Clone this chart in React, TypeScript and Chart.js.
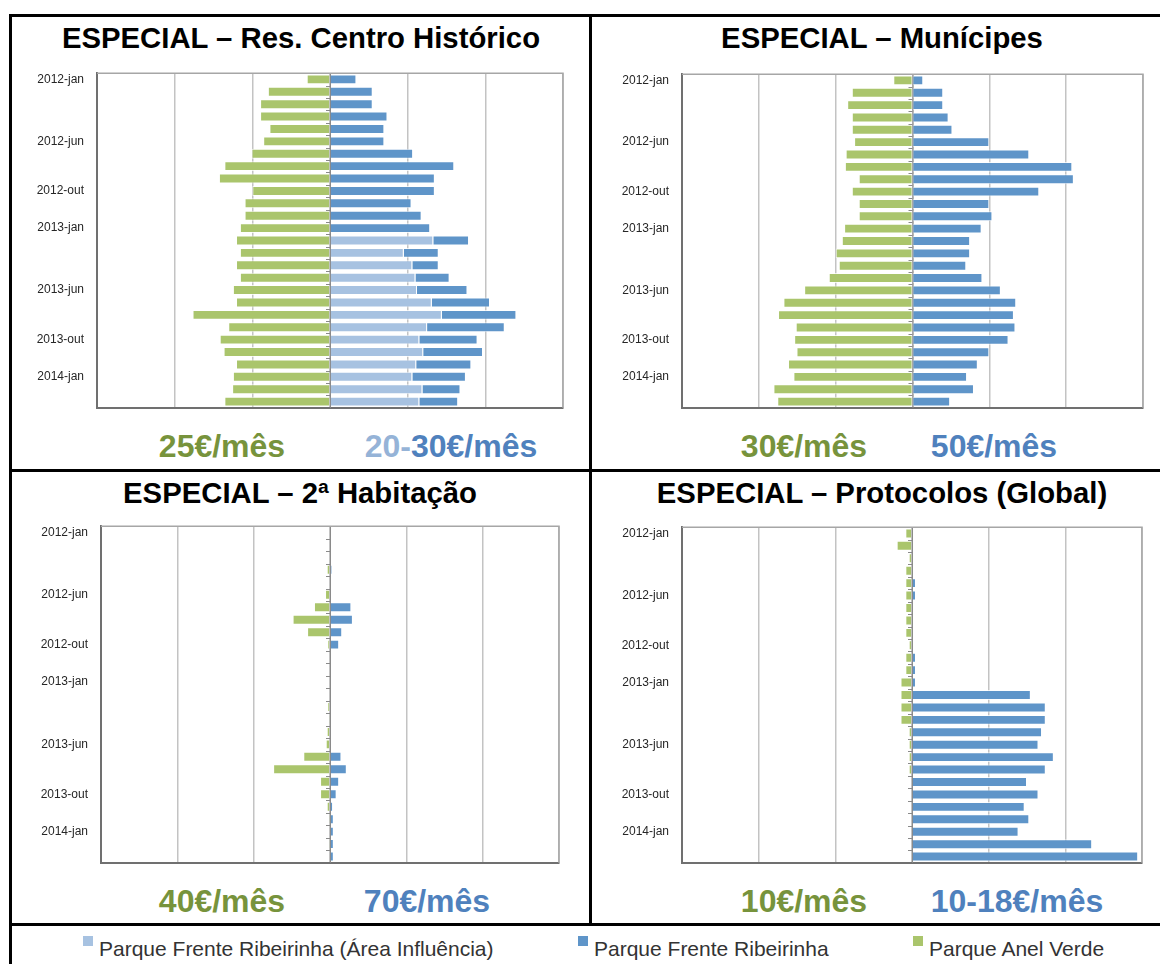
import React, { useEffect, useRef } from "react";
import { Chart, registerables } from "chart.js";

Chart.register(...registerables);

const FONT = '"Liberation Sans", Arial, Helvetica, sans-serif';

// Categories (months, 2012-jan .. 2014-mar)
const months = [
  "2012-jan", "2012-fev", "2012-mar", "2012-abr", "2012-mai", "2012-jun",
  "2012-jul", "2012-ago", "2012-set", "2012-out", "2012-nov", "2012-dez",
  "2013-jan", "2013-fev", "2013-mar", "2013-abr", "2013-mai", "2013-jun",
  "2013-jul", "2013-ago", "2013-set", "2013-out", "2013-nov", "2013-dez",
  "2014-jan", "2014-fev", "2014-mar",
];
const shownTicks = ["2012-jan", "2012-jun", "2012-out", "2013-jan", "2013-jun", "2013-out", "2014-jan"];

const seriesNames = [
  "Parque Frente Ribeirinha (Área Influência)",
  "Parque Frente Ribeirinha",
  "Parque Anel Verde",
];

// Panel 1 – Res. Centro Histórico
const centroInfluencia = [0, 0, 0, 0, 0, 0, 0, 0, 0, 0, 0, 0, 0, 133, 95, 106, 110, 112, 131, 144, 125, 115, 120, 111, 106, 119, 115];
const centroRibeirinha = [34, 55, 55, 74, 70, 70, 107, 160, 135, 135, 105, 118, 129, 46, 45, 34, 44, 65, 75, 96, 100, 75, 77, 71, 69, 49, 50];
const centroAnelVerde = [30, 80, 90, 90, 78, 86, 101, 136, 143, 100, 110, 110, 116, 121, 116, 121, 116, 125, 121, 177, 131, 142, 137, 121, 125, 126, 136];

// Panel 2 – Munícipes
const municipesRibeirinha = [14, 40, 40, 47, 52, 100, 152, 208, 210, 165, 100, 104, 90, 75, 75, 70, 91, 115, 135, 132, 134, 125, 100, 85, 71, 80, 49];
const municipesAnelVerde = [25, 79, 85, 79, 79, 76, 87, 88, 70, 79, 70, 70, 89, 92, 100, 96, 109, 141, 168, 175, 152, 154, 151, 162, 155, 181, 176];

// Panel 3 – 2ª Habitação
const habitacaoRibeirinha = [0, 0, 0, 2.6, 0, 1, 28, 30, 16, 12, 0, 0, 0, 0, 0, 1, 1, 0, 15, 22, 12, 8.7, 4, 5, 5, 5, 5];
const habitacaoAnelVerde = [0, 0, 0, 4.3, 0, 6.5, 21, 49, 30, 3.5, 0, 0, 0, 0, 3.5, 1.7, 4.3, 5.6, 35, 74.5, 13, 13, 4.3, 1.7, 0, 1.7, 0];

// Panel 4 – Protocolos (Global)
const protocolosRibeirinha = [0, 0, 0, 0, 5.2, 5.2, 0, 0, 0, 0, 5.2, 5.2, 5.2, 155, 174.5, 174.5, 169.6, 165, 185, 174.5, 150, 165, 147, 153, 139, 235, 295];
const protocolosAnelVerde = [8.7, 20, 4.3, 8.7, 8.7, 8.7, 8.7, 8.7, 8.7, 4.3, 8.7, 8.7, 15, 15, 15, 15, 4.3, 4.3, 4.3, 4.3, 0, 0, 0, 0, 0, 0, 0];

const axisMin = -300;
const axisMax = 300;
const axisStep = 100;

const LIGHT_BAR = "#A7C2E1";
const BLUE_BAR = "#5F95C9";
const GREEN_BAR = "#AAC56C";
const LIGHT_TEXT = "#95B3D7";
const BLUE_TEXT = "#4F81BD";
const GREEN_TEXT = "#77933C";

type Geom = { L: number; R: number; T: number; B: number };

const framePlugin = {
  id: "frame",
  beforeDatasetsDraw(chart: any) {
    const { ctx, chartArea: a, scales } = chart;
    const x0 = scales.x.getPixelForValue(0);
    const n = chart.data.labels.length;
    const step = (a.bottom - a.top) / n;
    ctx.save();
    ctx.strokeStyle = "#8a8a8a";
    ctx.lineWidth = 1;
    ctx.beginPath();
    ctx.moveTo(x0 + 0.5, a.top);
    ctx.lineTo(x0 + 0.5, a.bottom);
    for (let i = 1; i < n; i++) {
      const y = Math.round(a.top + i * step) + 0.5;
      ctx.moveTo(x0 - 4, y);
      ctx.lineTo(x0, y);
    }
    ctx.stroke();
    ctx.restore();
  },
  afterDraw(chart: any) {
    const { ctx, chartArea: a } = chart;
    ctx.save();
    ctx.strokeStyle = "#a6a6a6";
    ctx.lineWidth = 1.5;
    ctx.beginPath();
    ctx.moveTo(a.left, a.top);
    ctx.lineTo(a.right, a.top);
    ctx.lineTo(a.right, a.bottom);
    ctx.stroke();
    ctx.restore();
  },
};

function PyramidChart({ geom, build }: { geom: Geom; build: () => any[] }) {
  const ref = useRef<HTMLCanvasElement>(null);
  const AX = 80;
  const PAD = 10;
  const left = geom.L - AX;
  const top = geom.T - 2 * PAD;
  const width = geom.R - geom.L + AX + PAD;
  const height = geom.B - geom.T + 4 * PAD;

  useEffect(() => {
    const chart = new Chart(ref.current as HTMLCanvasElement, {
      type: "bar",
      data: { labels: months, datasets: build() },
      options: {
        responsive: false,
        animation: false,
        devicePixelRatio: 1,
        indexAxis: "y",
        layout: { padding: { top: PAD, bottom: PAD, left: 0, right: PAD } },
        plugins: { legend: { display: false }, tooltip: { enabled: false } },
        datasets: { bar: { categoryPercentage: 1, barPercentage: 0.8 } } as any,
        scales: {
          x: {
            type: "linear",
            stacked: true,
            min: axisMin,
            max: axisMax,
            ticks: { display: false, stepSize: axisStep },
            grid: { color: "#c3c3c3", lineWidth: 1.5, drawTicks: false },
            border: { display: true, color: "#707070", width: 2 },
            afterFit: (s: any) => {
              s.height = 0;
            },
          },
          y: {
            type: "category",
            stacked: true,
            grid: { display: false, drawTicks: false },
            border: { display: true, color: "#707070", width: 2 },
            ticks: {
              autoSkip: false,
              padding: 13,
              color: "#262626",
              font: { family: FONT, size: 12 },
              callback: (_v: any, i: number) => (shownTicks.includes(months[i]) ? months[i] : ""),
            },
            afterFit: (s: any) => {
              s.width = AX;
            },
          },
        } as any,
      },
      plugins: [framePlugin],
    });
    return () => chart.destroy();
  }, []);

  return (
    <canvas
      ref={ref}
      width={width}
      height={height}
      style={{ position: "absolute", left, top, width, height }}
    />
  );
}

const bar = (label: string, data: number[], color: string) => ({
  label,
  data,
  backgroundColor: color,
  borderColor: "rgba(255,255,255,0.75)",
  borderWidth: 1,
  borderSkipped: "start",
});

const neg = (arr: number[]) => arr.map((v) => -v);

function Text({ x, y, size, color, children, bold = true }: any) {
  return (
    <div
      style={{
        position: "absolute",
        left: x,
        top: y,
        transform: "translate(-50%, -50%)",
        whiteSpace: "nowrap",
        fontFamily: FONT,
        fontWeight: bold ? 700 : 400,
        fontSize: size,
        lineHeight: 1,
        color,
      }}
    >
      {children}
    </div>
  );
}

function Line({ x, y, w, h }: any) {
  return <div style={{ position: "absolute", left: x, top: y, width: w, height: h, background: "#000" }} />;
}

function LegendItem({ x, color, label }: any) {
  return (
    <>
      <div style={{ position: "absolute", left: x, top: 936, width: 10, height: 10, background: color }} />
      <div
        style={{
          position: "absolute",
          left: x + 16,
          top: 948,
          transform: "translateY(-50%)",
          whiteSpace: "nowrap",
          fontFamily: FONT,
          fontSize: 21,
          lineHeight: 1,
          color: "#333",
        }}
      >
        {label}
      </div>
    </>
  );
}

export default function App() {
  return (
    <div style={{ position: "absolute", left: 0, top: 0, width: 1160, height: 964, overflow: "hidden", background: "#fff" }}>
      <Line x={9} y={14} w={1151} h={3} />
      <Line x={9} y={14} w={3} h={950} />
      <Line x={589} y={14} w={3} h={911} />
      <Line x={9} y={469} w={1151} h={3} />
      <Line x={9} y={923} w={1151} h={3} />

      <Text x={301} y={38} size={29.3} color="#000">ESPECIAL – Res. Centro Histórico</Text>
      <Text x={882} y={38} size={29.3} color="#000">ESPECIAL – Munícipes</Text>
      <Text x={300} y={493} size={29.3} color="#000">ESPECIAL – 2ª Habitação</Text>
      <Text x={882} y={493} size={29.3} color="#000">ESPECIAL – Protocolos (Global)</Text>

      <PyramidChart
        geom={{ L: 97, R: 563, T: 73, B: 408 }}
        build={() => [
          bar(seriesNames[0], centroInfluencia, LIGHT_BAR),
          bar(seriesNames[1], centroRibeirinha, BLUE_BAR),
          bar(seriesNames[2], neg(centroAnelVerde), GREEN_BAR),
        ]}
      />
      <PyramidChart
        geom={{ L: 682, R: 1143, T: 74, B: 408 }}
        build={() => [
          bar(seriesNames[1], municipesRibeirinha, BLUE_BAR),
          bar(seriesNames[2], neg(municipesAnelVerde), GREEN_BAR),
        ]}
      />
      <PyramidChart
        geom={{ L: 101, R: 559, T: 526, B: 863 }}
        build={() => [
          bar(seriesNames[1], habitacaoRibeirinha, BLUE_BAR),
          bar(seriesNames[2], neg(habitacaoAnelVerde), GREEN_BAR),
        ]}
      />
      <PyramidChart
        geom={{ L: 682, R: 1142, T: 527, B: 863 }}
        build={() => [
          bar(seriesNames[1], protocolosRibeirinha, BLUE_BAR),
          bar(seriesNames[2], neg(protocolosAnelVerde), GREEN_BAR),
        ]}
      />

      <Text x={222} y={446} size={32} color={GREEN_TEXT}>25€/mês</Text>
      <Text x={451} y={446} size={32} color={BLUE_TEXT}>
        <span style={{ color: LIGHT_TEXT }}>20-</span>30€/mês
      </Text>
      <Text x={804} y={446} size={32} color={GREEN_TEXT}>30€/mês</Text>
      <Text x={994} y={446} size={32} color={BLUE_TEXT}>50€/mês</Text>
      <Text x={222} y={901} size={32} color={GREEN_TEXT}>40€/mês</Text>
      <Text x={427} y={901} size={32} color={BLUE_TEXT}>70€/mês</Text>
      <Text x={804} y={901} size={32} color={GREEN_TEXT}>10€/mês</Text>
      <Text x={1017} y={901} size={32} color={BLUE_TEXT}>10-18€/mês</Text>

      <LegendItem x={83} color={LIGHT_BAR} label={seriesNames[0]} />
      <LegendItem x={578} color={BLUE_BAR} label={seriesNames[1]} />
      <LegendItem x={913} color={GREEN_BAR} label={seriesNames[2]} />
    </div>
  );
}
